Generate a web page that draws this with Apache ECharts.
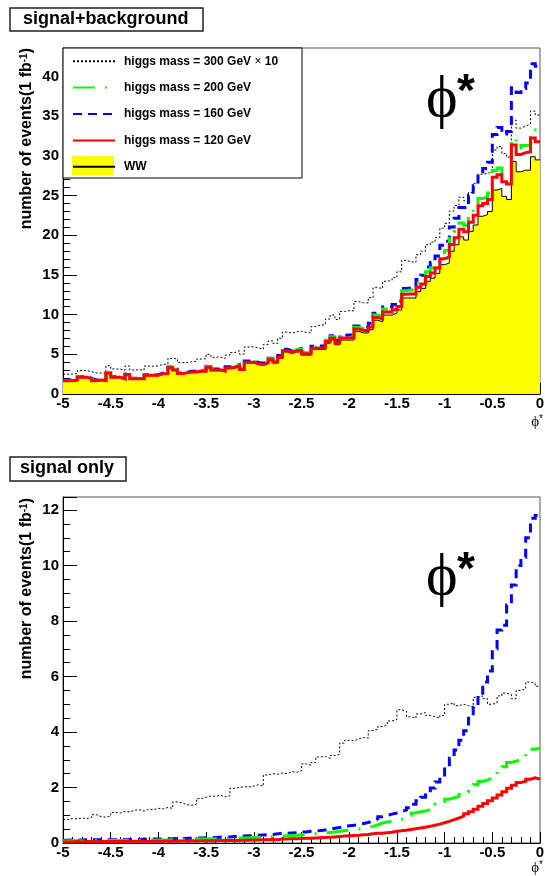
<!DOCTYPE html>
<html><head><meta charset="utf-8">
<script src="https://cdn.jsdelivr.net/npm/echarts@6/dist/echarts.min.js"></script>
<style>html,body{margin:0;padding:0;background:#fff}#c{width:545px;height:876px}</style>
</head><body><div id="c"></div>
<script>
// ---- binning (phi* from -5 to 0, 100 bins) ----
const xMin = -5, xMax = 0, binWidth = 0.05;

// ---- WW background (events / bin) ----
const ww = [1.64,1.64,1.7,2.06,2.06,1.9,1.64,1.7,1.64,2.6,
2.06,2.06,1.85,2.4,1.85,1.85,1.85,2.3,2.3,2.3,
2.5,2.5,3.24,2.95,2.5,2.6,2.7,2.7,2.8,2.8,
3.3,2.95,2.95,2.8,3.2,3.24,3.45,3.0,3.9,3.9,
3.7,3.6,3.8,4.2,3.9,4.5,5.3,5.1,5.3,5.3,
4.9,4.9,5.6,5.6,5.6,6.4,6.8,6.2,6.8,6.8,
6.8,7.9,7.7,7.7,8.1,9.3,9.1,9.95,9.95,10.2,
10.6,12.1,12.1,12.1,12.9,13.3,14.2,14.6,15.2,16.3,
16.5,18.0,18.8,19.8,19.4,20.5,21.3,22.4,22.6,23.0,
25.7,25.9,24.9,24.5,29.3,28.0,28.2,28.2,29.9,29.5];

// ---- signal only ----
const sig120 = [0.04,0.04,0.05,0.04,0.05,0.05,0.04,0.05,0.05,0.05,
0.05,0.05,0.06,0.05,0.06,0.06,0.06,0.05,0.06,0.06,
0.06,0.07,0.06,0.07,0.07,0.07,0.08,0.07,0.08,0.08,
0.08,0.08,0.09,0.09,0.09,0.1,0.09,0.1,0.1,0.11,
0.11,0.12,0.12,0.13,0.12,0.14,0.14,0.15,0.15,0.16,
0.17,0.17,0.18,0.19,0.2,0.21,0.22,0.23,0.25,0.26,
0.27,0.28,0.3,0.31,0.33,0.35,0.35,0.37,0.39,0.42,
0.44,0.46,0.49,0.51,0.54,0.57,0.6,0.64,0.68,0.73,
0.78,0.84,0.9,0.97,1.05,1.13,1.22,1.32,1.42,1.52,
1.62,1.73,1.85,1.97,2.08,2.18,2.22,2.3,2.35,2.3];

const sig160 = [0.1,0.11,0.1,0.11,0.12,0.11,0.12,0.12,0.11,0.12,
0.12,0.13,0.12,0.13,0.13,0.12,0.14,0.13,0.14,0.14,
0.14,0.15,0.15,0.16,0.15,0.17,0.17,0.18,0.18,0.19,
0.2,0.2,0.21,0.22,0.22,0.23,0.24,0.25,0.26,0.27,
0.28,0.29,0.3,0.31,0.33,0.34,0.35,0.36,0.37,0.39,
0.4,0.42,0.43,0.45,0.47,0.5,0.53,0.56,0.59,0.62,
0.64,0.67,0.7,0.74,0.8,0.87,0.95,1.0,1.04,1.08,
1.13,1.19,1.27,1.4,1.52,1.65,1.79,1.98,2.2,2.45,
2.75,3.05,3.35,3.7,4.05,4.5,4.95,5.4,5.8,6.2,
7.0,7.68,7.85,8.58,9.3,10.0,10.3,11.0,11.7,11.8];

const sig200 = [0.07,0.08,0.08,0.07,0.08,0.08,0.09,0.08,0.09,0.09,
0.09,0.09,0.1,0.09,0.1,0.1,0.1,0.11,0.1,0.11,
0.11,0.11,0.12,0.12,0.12,0.13,0.13,0.14,0.14,0.14,
0.15,0.15,0.16,0.16,0.17,0.17,0.18,0.18,0.19,0.2,
0.2,0.21,0.22,0.23,0.24,0.25,0.26,0.27,0.28,0.29,
0.3,0.31,0.33,0.34,0.36,0.38,0.4,0.42,0.44,0.46,
0.48,0.5,0.53,0.56,0.6,0.65,0.72,0.76,0.78,0.8,
0.85,0.92,1.0,1.08,1.13,1.15,1.2,1.3,1.4,1.5,
1.58,1.63,1.67,1.75,1.85,1.98,2.1,2.22,2.27,2.33,
2.45,2.58,2.75,2.9,2.95,3.0,3.1,3.2,3.38,3.42];

// higgs 300 GeV signal, already scaled x10
const sig300x10 = [0.85,0.88,0.87,0.9,0.88,0.92,1.02,0.95,0.93,0.97,
1.1,1.08,1.14,1.12,1.18,1.2,1.15,1.22,1.2,1.25,
1.23,1.28,1.25,1.48,1.45,1.38,1.36,1.4,1.6,1.65,
1.7,1.68,1.72,1.66,1.7,1.97,2.0,2.03,2.02,2.05,
2.1,2.05,2.45,2.5,2.48,2.52,2.5,2.57,2.55,2.6,
2.85,2.8,2.9,3.1,3.12,3.05,3.15,3.2,3.6,3.7,
3.68,3.75,3.8,3.78,4.05,4.1,4.2,4.25,4.4,4.45,
4.8,4.75,4.55,4.5,4.65,4.7,4.6,4.55,4.5,4.6,
5.0,5.05,4.95,5.0,4.95,4.9,5.25,5.3,5.2,5.0,
5.05,5.3,5.4,5.35,5.2,5.5,5.55,5.8,5.75,5.65];

// ---- names / labels ----
const nameWW = 'WW';
const name120 = 'higgs mass = 120 GeV';
const name160 = 'higgs mass = 160 GeV';
const name200 = 'higgs mass = 200 GeV';
const name300 = 'higgs mass = 300 GeV × 10';
const panelTitles = ['signal+background', 'signal only'];
const yTitle = ['number of events(1 fb', '-1', ')'];
const phiLabel = 'ϕ';

// ---- build histogram step data ----
const edges = ww.map((_, i) => +(xMin + i * binWidth).toFixed(2));
function hist(vals) {
  const d = vals.map((v, i) => [edges[i], v]);
  d.push([xMax, vals[vals.length - 1]]);
  return d;
}
function addWW(sig) { return sig.map((v, i) => +(v + ww[i]).toFixed(3)); }

const SANS = '"Liberation Sans", Arial, Helvetica, sans-serif';
const SERIF = '"Liberation Serif", "DejaVu Serif", serif';

const styles = {
  ww:  { color: '#000', width: 1, type: 'solid' },
  h120: { color: '#ff0000', width: 3, type: 'solid' },
  h160: { color: '#0000ff', width: 3, type: [9, 6] },
  h200: { color: '#00ff00', width: 3, type: [22, 10, 2, 10] },
  h300: { color: '#000000', width: 1, type: [2, 2] }
};

function lineSeries(name, data, st, gi, extra) {
  return Object.assign({
    name, type: 'line', step: 'end', symbol: 'none', showSymbol: false,
    xAxisIndex: gi, yAxisIndex: gi, data,
    lineStyle: { color: st.color, width: st.width, type: st.type, cap: 'butt', join: 'miter' },
    itemStyle: { color: st.color },
    emphasis: { disabled: true }, silent: true, animation: false
  }, extra || {});
}

function xAxisCfg(gi) {
  return {
    type: 'value', gridIndex: gi, min: xMin, max: xMax, interval: 0.5,
    axisLine: { show: true, onZero: false, lineStyle: { color: '#000', width: 1 } },
    axisTick: { show: true, inside: true, length: 11, lineStyle: { color: '#000', width: 1 } },
    minorTick: { show: true, splitNumber: 5, length: 6, lineStyle: { color: '#000', width: 1 } },
    axisLabel: { color: '#000', fontWeight: 'bold', fontSize: 15, fontFamily: SANS, margin: 2, showMinLabel: true, showMaxLabel: true },
    splitLine: { show: false }, minorSplitLine: { show: false }
  };
}
function yAxisCfg(gi, max, interval, minorSplit) {
  return {
    type: 'value', gridIndex: gi, min: 0, max: max, interval: interval,
    axisLine: { show: true, onZero: false, lineStyle: { color: '#000', width: 1 } },
    axisTick: { show: true, inside: true, length: 14, lineStyle: { color: '#000', width: 1 } },
    minorTick: { show: true, splitNumber: minorSplit, length: 7, lineStyle: { color: '#000', width: 1 } },
    axisLabel: { color: '#000', fontWeight: 'bold', fontSize: 15, fontFamily: SANS, margin: 4, showMaxLabel: false },
    splitLine: { show: false }, minorSplitLine: { show: false }
  };
}

const chart = echarts.init(document.getElementById('c'), null, { renderer: 'canvas' });

const richY = {
  a: { fontFamily: SANS, fontWeight: 'bold', fontSize: 16, fill: '#000' },
  s: { fontFamily: SANS, fontWeight: 'bold', fontSize: 10, fill: '#000', verticalAlign: 'top' }
};
function yTitleEl(topY) {
  return { type: 'text', x: 27, y: topY, rotation: Math.PI / 2, z: 10,
    style: { text: '{a|' + yTitle[0] + '}{s|' + yTitle[1] + '}{a|' + yTitle[2] + '}', rich: richY,
      align: 'right', verticalAlign: 'middle', fill: '#000' } };
}
function bigPhi(yPhi, yStar) {
  return [
    { type: 'text', x: 426, y: yPhi, z: 10, style: { text: phiLabel, font: '60px ' + SERIF, fill: '#000', align: 'left', verticalAlign: 'middle' } },
    { type: 'text', x: 457, y: yStar, z: 10, style: { text: '*', font: 'bold 46px ' + SANS, fill: '#000', align: 'left', verticalAlign: 'middle' } }
  ];
}
function xTitleEl(yMid) {
  return { type: 'text', x: 543, y: yMid, z: 10,
    style: { text: '{p|' + phiLabel + '}{s|*}', align: 'right', verticalAlign: 'middle',
      rich: { p: { fontFamily: SERIF, fontSize: 15, fill: '#000' }, s: { fontFamily: SANS, fontSize: 10, fill: '#000', verticalAlign: 'top' } } } };
}
function titleBox(x, y, w, h, tx, text) {
  return [
    { type: 'rect', z: 10, shape: { x: x, y: y, width: w, height: h }, style: { fill: '#fff', stroke: '#222', lineWidth: 1.5 } },
    { type: 'text', x: tx, y: y + h / 2 - 0.5, z: 11, style: { text: text, font: 'bold 18px ' + SANS, fill: '#000', align: 'left', verticalAlign: 'middle' } }
  ];
}

const option = {
  animation: false,
  backgroundColor: '#fff',
  grid: [
    { left: 63, right: 5, top: 48, height: 346, show: true, borderColor: '#555', borderWidth: 1, containLabel: false, outerBoundsMode: 'none' },
    { left: 63, right: 5, top: 497, height: 346, show: true, borderColor: '#555', borderWidth: 1, containLabel: false, outerBoundsMode: 'none' }
  ],
  xAxis: [xAxisCfg(0), xAxisCfg(1)],
  yAxis: [yAxisCfg(0, 43.6, 5, 5), yAxisCfg(1, 12.47, 2, 4)],
  legend: {
    show: true, orient: 'vertical', left: 72, top: 54, padding: 0,
    itemWidth: 42, itemHeight: 18, itemGap: 12, selectedMode: false, z: 20,
    itemStyle: { color: 'transparent', borderColor: 'transparent', borderWidth: 0, opacity: 0 },
    data: [name300, name200, name160, name120, nameWW],
    formatter: function (n) {
      if (n === name300) return '{b|higgs mass = 300 GeV }{t|×}{b| 10}';
      return '{b|' + n + '}';
    },
    textStyle: {
      color: '#000', fontFamily: SANS, fontWeight: 'bold', fontSize: 12, padding: [0, 0, 0, 4],
      rich: {
        b: { color: '#000', fontFamily: SANS, fontWeight: 'bold', fontSize: 12 },
        t: { color: '#000', fontFamily: SANS, fontWeight: 'normal', fontSize: 12 }
      }
    }
  },
  graphic: [
    // legend frame and WW swatch
    { type: 'rect', z: 15, shape: { x: 63, y: 48, width: 239, height: 130 }, style: { fill: '#fff', stroke: '#000', lineWidth: 1 } },
    { type: 'rect', z: 16, shape: { x: 72, y: 156, width: 42, height: 19 }, style: { fill: '#ffff00', stroke: null } },
    ...titleBox(10, 8, 193, 23, 23, panelTitles[0]),
    ...titleBox(10, 457, 116, 24, 20, panelTitles[1]),
    yTitleEl(48), yTitleEl(498),
    ...bigPhi(100, 93), ...bigPhi(578, 571),
    xTitleEl(422), xTitleEl(868)
  ],
  series: [
    // top panel: signal + background
    lineSeries(nameWW, hist(ww), styles.ww, 0, { areaStyle: { color: '#ffff00', opacity: 1 }, z: 2 }),
    lineSeries(name300, hist(addWW(sig300x10)), styles.h300, 0, { z: 3 }),
    lineSeries(name160, hist(addWW(sig160)), styles.h160, 0, { z: 4 }),
    lineSeries(name200, hist(addWW(sig200)), styles.h200, 0, { z: 5 }),
    lineSeries(name120, hist(addWW(sig120)), styles.h120, 0, { z: 6 }),
    // bottom panel: signal only
    lineSeries(name300, hist(sig300x10), styles.h300, 1, { z: 3 }),
    lineSeries(name160, hist(sig160), styles.h160, 1, { z: 4 }),
    lineSeries(name200, hist(sig200), styles.h200, 1, { z: 5 }),
    lineSeries(name120, hist(sig120), styles.h120, 1, { z: 6 })
  ]
};
chart.setOption(option);
</script>
</body></html>
